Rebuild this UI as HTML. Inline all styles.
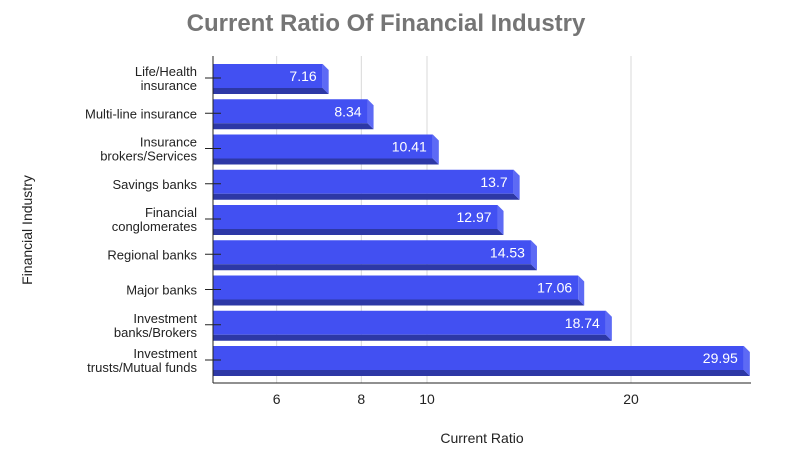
<!DOCTYPE html>
<html><head><meta charset="utf-8"><style>
body{margin:0;background:#fff;}
svg text{font-family:"Liberation Sans",sans-serif;}
</style></head><body>
<svg id="chart" width="786" height="456" xmlns="http://www.w3.org/2000/svg">
<text x="386" y="31" text-anchor="middle" font-size="24" font-weight="bold" fill="#757575">Current Ratio Of Financial Industry</text>
<text transform="translate(32,230) rotate(-90)" text-anchor="middle" font-size="14" fill="#222">Financial Industry</text>
<text x="482" y="443" text-anchor="middle" font-size="14" fill="#222">Current Ratio</text>
<g id="grid"></g><g id="bars"></g><g id="axes"></g>
</svg>
<script>
const categories=[["Life/Health","insurance"],["Multi-line insurance"],["Insurance","brokers/Services"],["Savings banks"],["Financial","conglomerates"],["Regional banks"],["Major banks"],["Investment","banks/Brokers"],["Investment","trusts/Mutual funds"]];
const values=[7.16,8.34,10.41,13.7,12.97,14.53,17.06,18.74,29.95];
const valueLabels=["7.16","8.34","10.41","13.7","12.97","14.53","17.06","18.74","29.95"];
const ticks=[6,8,10,20];
const NS="http://www.w3.org/2000/svg";
const x0=213, pxPerDecade=677.7;
function xs(v){return 427+(Math.log10(v)-1)*pxPerDecade;}
function yRow(i){return 64+35.25*i;}
function mk(tag,attrs,parent){const e=document.createElementNS(NS,tag);for(const k in attrs)e.setAttribute(k,attrs[k]);parent.appendChild(e);return e;}
const grid=document.getElementById('grid'),bars=document.getElementById('bars'),axes=document.getElementById('axes');
ticks.forEach(t=>{
  const g=mk('line',{x1:xs(t),x2:xs(t),y1:56,y2:383,stroke:'#d8d8d8','stroke-width':1},grid);
  
  
  const tx=mk('text',{x:xs(t),y:404,'text-anchor':'middle','font-size':14,fill:'#222'},axes);
  tx.textContent=t;
  
  
});
const d=6,h=24;
values.forEach((v,i)=>{
  const y=yRow(i), xe=xs(v)-d;
  const g=mk('g',{},bars);
  
  
  mk('rect',{x:x0,y:y,width:xe-x0,height:h,fill:'#4250f2'},g);
  mk('polygon',{points:`${x0},${y+h} ${xe},${y+h} ${xe+d},${y+h+d} ${x0},${y+h+d}`,fill:'#2d38a6'},g);
  mk('polygon',{points:`${xe},${y} ${xe+d},${y+d} ${xe+d},${y+h+d} ${xe},${y+h}`,fill:'#5d6af5'},g);
  const t=mk('text',{x:xe-6,y:y+17,'text-anchor':'end','font-size':14,fill:'#fff','font-family':'Liberation Serif, serif'},g);
  t.textContent=valueLabels[i];
  
  
  const cy=y+14;
  const tk=mk('line',{x1:205,x2:221,y1:cy,y2:cy,stroke:'#222'},axes);
  
  
  const lines=categories[i];
  const lt=mk('text',{x:197,y:cy+5-(lines.length-1)*7,'text-anchor':'end','font-size':13,fill:'#222'},axes);
  
  
  lines.forEach((s,j)=>{const ts=mk('tspan',{x:197,dy:j?14:0},lt);ts.textContent=s;});
});
const ya=mk('line',{x1:x0,x2:x0,y1:56,y2:383,stroke:'#222'},axes);


const xa=mk('line',{x1:x0,x2:751,y1:383,y2:383,stroke:'#222'},axes);


</script>
</body></html>
